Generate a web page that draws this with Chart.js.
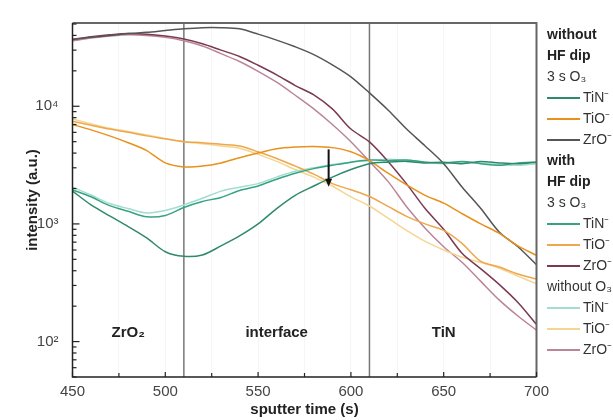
<!DOCTYPE html>
<html>
<head>
<meta charset="utf-8">
<script src="https://cdn.jsdelivr.net/npm/chart.js@4.4.1/dist/chart.umd.min.js"></script>
<style>
  html, body { margin: 0; padding: 0; background: #fff; overflow: hidden; }
  #wrap { position: relative; width: 613px; height: 420px; }
  #legend { position: absolute; left: 547px; top: 24px; font-family: 'Liberation Sans', Arial, sans-serif; font-size: 14px; color: #333; white-space: nowrap; }
  #legend div { height: 21px; line-height: 21px; }
  #legend .h { font-weight: bold; color: #222; }
  #legend i { display: inline-block; width: 33px; height: 2px; vertical-align: middle; margin-right: 3px; }
</style>
</head>
<body>
<div id="wrap">
  <canvas id="chart" width="613" height="420"></canvas>
  <div id="legend"></div>
</div>
<script>
// sputter time (s)
var times = [450, 460, 470, 480, 490, 500, 510, 520, 530, 540, 550, 560, 570, 580, 590, 600, 610, 620, 630, 640, 650, 660, 670, 680, 690, 700];

// without HF dip, 3 s O3
var tinNoHF = [1900, 1450, 1170, 950, 760, 580, 530, 545, 650, 790, 1000, 1350, 1750, 2100, 2500, 2900, 3250, 3350, 3400, 3300, 3350, 3250, 3400, 3300, 3250, 3350];
var tioNoHF = [7000, 6300, 5600, 4900, 4200, 3300, 3050, 3100, 3300, 3650, 4000, 4350, 4500, 4550, 4450, 4100, 3450, 2700, 2150, 1750, 1500, 1220, 1000, 830, 650, 540];
var zroNoHF = [37000, 38500, 40000, 41500, 42500, 44000, 45500, 46500, 46500, 45500, 41000, 36500, 32000, 27500, 22500, 17800, 13000, 9300, 6400, 4600, 3250, 2050, 1350, 850, 640, 450];

// with HF dip, 3 s O3
var tinHF = [1950, 1700, 1430, 1280, 1150, 1180, 1380, 1550, 1680, 1920, 2100, 2400, 2700, 2950, 3150, 3350, 3500, 3450, 3500, 3350, 3300, 3400, 3250, 3150, 3300, 3350];
var tioHF = [7450, 6900, 6400, 6000, 5600, 5300, 5000, 4900, 4750, 4600, 4100, 3600, 3100, 2650, 2200, 1950, 1710, 1410, 1160, 1000, 880, 680, 480, 430, 375, 340];
var zroHF = [37000, 39000, 40500, 41500, 41000, 39500, 37300, 34000, 30000, 26500, 22300, 18500, 15000, 12500, 9500, 6400, 4980, 3400, 2190, 1350, 900, 560, 415, 305, 215, 140];

// without O3
var tinNoO3 = [2050, 1760, 1490, 1350, 1240, 1300, 1450, 1650, 1900, 2050, 2200, 2500, 2800, 3000, 3200, 3350, 3450, 3550, 3450, 3350, 3250, 3350, 3300, 3200, 3150, 3250];
var tioNoO3 = [7800, 7100, 6500, 6100, 5700, 5300, 5000, 4800, 4600, 4400, 3900, 3400, 2900, 2500, 2100, 1700, 1420, 1120, 880, 710, 600, 520, 470, 420, 360, 310];
var zroNoO3 = [36000, 38000, 39500, 40500, 40000, 38500, 36000, 32500, 28000, 24000, 19800, 16000, 12400, 9500, 7000, 5000, 3400, 2300, 1400, 920, 640, 470, 325, 225, 165, 125];

// axis ticks
var xTicks = [450, 475, 500, 525, 550, 575, 600, 625, 650, 675, 700];
var xLabels = [450, 500, 550, 600, 650, 700];
var yTicks = [50, 60, 70, 80, 90, 100, 200, 300, 400, 500, 600, 700, 800, 900, 1000, 2000, 3000, 4000, 5000, 6000, 7000, 8000, 9000, 10000, 20000, 30000, 40000, 50000];
var yLabels = { 100: '10\u00B2', 1000: '10\u00B3', 10000: '10\u2074' };

// annotations
var regionLines = [510, 610];
var regionNames = ['ZrO\u2082', 'interface', 'TiN'];
var regionCenters = [480, 560, 650];
var regionLabelLevel = 118;
var arrowTime = 588;
var arrowFrom = 4300;
var arrowTo = 2070;

var groups = [
  { head: ['without', 'HF dip'], sub: '3 s O\u2083' },
  { head: ['with', 'HF dip'], sub: '3 s O\u2083' },
  { head: [], sub: 'without O\u2083' }
];

var series = [
  { label: 'TiN\u207B', data: tinNoHF, color: '#2f8a6d', group: 0 },
  { label: 'TiO\u207B', data: tioNoHF, color: '#e8911c', group: 0 },
  { label: 'ZrO\u207B', data: zroNoHF, color: '#555555', group: 0 },
  { label: 'TiN\u207B', data: tinHF, color: '#36a383', group: 1 },
  { label: 'TiO\u207B', data: tioHF, color: '#eea74c', group: 1 },
  { label: 'ZrO\u207B', data: zroHF, color: '#7a3a54', group: 1 },
  { label: 'TiN\u207B', data: tinNoO3, color: '#a3ddd0', group: 2 },
  { label: 'TiO\u207B', data: tioNoO3, color: '#f5d592', group: 2 },
  { label: 'ZrO\u207B', data: zroNoO3, color: '#bb8599', group: 2 }
];

var FONT = "'Liberation Sans', Arial, sans-serif";

var datasets = series.map(function (s) {
  return {
    label: s.label,
    data: s.data.map(function (v, i) { return { x: times[i], y: v }; }),
    borderColor: s.color,
    borderWidth: 1.5,
    pointRadius: 0,
    tension: 0.3,
    fill: false
  };
});

var decorations = {
  id: 'decorations',
  beforeDatasetsDraw: function (chart) {
    var ctx = chart.ctx, a = chart.chartArea, x = chart.scales.x;
    ctx.save();
    ctx.strokeStyle = '#777';
    ctx.lineWidth = 1.5;
    regionLines.forEach(function (t) {
      var px = x.getPixelForValue(t);
      ctx.beginPath();
      ctx.moveTo(px, a.top);
      ctx.lineTo(px, a.bottom);
      ctx.stroke();
    });
    ctx.restore();
  },
  afterDatasetsDraw: function (chart) {
    var ctx = chart.ctx, a = chart.chartArea, x = chart.scales.x, y = chart.scales.y;
    ctx.save();
    // frame
    ctx.lineWidth = 2;
    ctx.strokeStyle = '#666';
    ctx.beginPath();
    ctx.moveTo(a.left, a.top);
    ctx.lineTo(a.right, a.top);
    ctx.lineTo(a.right, a.bottom);
    ctx.stroke();
    ctx.lineWidth = 1.5;
    ctx.strokeStyle = '#222';
    ctx.beginPath();
    ctx.moveTo(a.left, a.top);
    ctx.lineTo(a.left, a.bottom);
    ctx.lineTo(a.right, a.bottom);
    ctx.stroke();
    // inward ticks
    ctx.lineWidth = 1.2;
    xTicks.forEach(function (t) {
      var px = x.getPixelForValue(t);
      var len = xLabels.indexOf(t) >= 0 ? 5 : 4;
      ctx.beginPath();
      ctx.moveTo(px, a.bottom);
      ctx.lineTo(px, a.bottom - len);
      ctx.stroke();
    });
    yTicks.forEach(function (v) {
      var py = y.getPixelForValue(v);
      var len = yLabels[v] ? 7 : 4;
      ctx.beginPath();
      ctx.moveTo(a.left, py);
      ctx.lineTo(a.left + len, py);
      ctx.stroke();
    });
    // arrow
    var ax = x.getPixelForValue(arrowTime);
    var y1 = y.getPixelForValue(arrowFrom), y2 = y.getPixelForValue(arrowTo);
    ctx.strokeStyle = '#111';
    ctx.fillStyle = '#111';
    ctx.lineWidth = 2;
    ctx.beginPath();
    ctx.moveTo(ax, y1);
    ctx.lineTo(ax, y2 - 7);
    ctx.stroke();
    ctx.beginPath();
    ctx.moveTo(ax - 3.5, y2 - 8);
    ctx.lineTo(ax + 3.5, y2 - 8);
    ctx.lineTo(ax, y2);
    ctx.closePath();
    ctx.fill();
    // region names
    ctx.fillStyle = '#222';
    ctx.font = 'bold 15px ' + FONT;
    ctx.textAlign = 'center';
    ctx.textBaseline = 'middle';
    regionNames.forEach(function (n, i) {
      ctx.fillText(n, x.getPixelForValue(regionCenters[i]), y.getPixelForValue(regionLabelLevel));
    });
    ctx.restore();
  }
};

var chart = new Chart(document.getElementById('chart'), {
  type: 'line',
  data: { datasets: datasets },
  options: {
    responsive: false,
    devicePixelRatio: 1,
    animation: false,
    layout: { padding: { left: 0, right: 76.5, top: 16, bottom: 0 } },
    plugins: { legend: { display: false }, tooltip: { enabled: false } },
    scales: {
      x: {
        type: 'linear',
        min: 450,
        max: 700,
        afterFit: function (s) { s.height = 43; },
        afterBuildTicks: function (s) { s.ticks = xTicks.map(function (v) { return { value: v }; }); },
        ticks: {
          padding: 6,
          color: '#444',
          font: { size: 15, family: FONT },
          maxRotation: 0,
          autoSkip: false,
          callback: function (v) { return xLabels.indexOf(v) >= 0 ? String(v) : ''; }
        },
        grid: { display: true, drawTicks: false, color: 'rgba(0,0,0,0.035)' },
        border: { display: false },
        title: { display: true, text: 'sputter time (s)', color: '#222', font: { size: 15, weight: 'bold', family: FONT }, padding: { top: 0, bottom: 1 } }
      },
      y: {
        type: 'logarithmic',
        min: 50,
        max: 51000,
        afterFit: function (s) { s.width = 72.5; },
        afterBuildTicks: function (s) { s.ticks = yTicks.map(function (v) { return { value: v }; }); },
        ticks: {
          padding: 14,
          color: '#444',
          font: { size: 15, family: FONT },
          autoSkip: false,
          callback: function (v) { return yLabels[v] || ''; }
        },
        grid: { display: false, drawTicks: false },
        border: { display: false },
        title: { display: true, text: 'intensity (a.u.)', color: '#222', font: { size: 15, weight: 'bold', family: FONT }, padding: { top: 24, bottom: 0 } }
      }
    }
  },
  plugins: [decorations]
});

// legend on the right, grouped like the original
var legendHtml = '';
groups.forEach(function (g, gi) {
  g.head.forEach(function (h) { legendHtml += '<div class="h">' + h + '</div>'; });
  legendHtml += '<div>' + g.sub + '</div>';
  series.forEach(function (s) {
    if (s.group === gi) {
      legendHtml += '<div><i style="background:' + s.color + '"></i>' + s.label + '</div>';
    }
  });
});
document.getElementById('legend').innerHTML = legendHtml;
</script>
</body>
</html>
